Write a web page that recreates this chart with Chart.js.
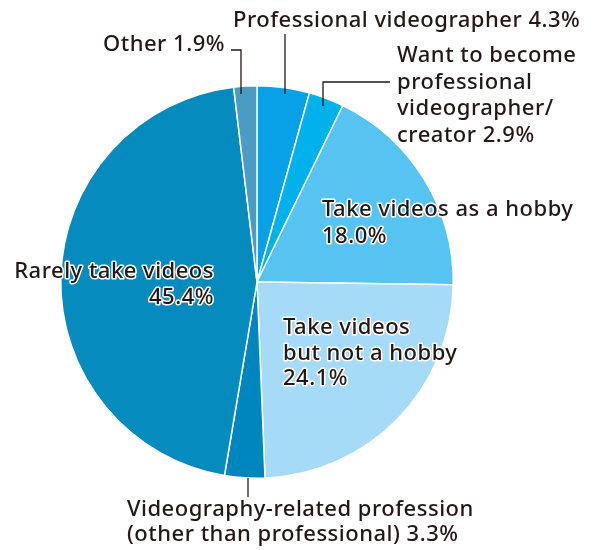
<!DOCTYPE html>
<html>
<head>
<meta charset="utf-8">
<script src="https://cdn.jsdelivr.net/npm/chart.js@4"></script>
<style>
  html, body { margin: 0; padding: 0; background: #fff; }
  #wrap { width: 600px; height: 550px; }
</style>
</head>
<body>
<div id="wrap"><canvas id="pie" width="600" height="550"></canvas></div>
<script>
const categories = [
  'Professional videographer',
  'Want to become professional videographer/creator',
  'Take videos as a hobby',
  'Take videos but not a hobby',
  'Videography-related profession (other than professional)',
  'Rarely take videos',
  'Other'
];
const shares = [4.3, 2.9, 18.0, 24.1, 3.3, 45.4, 1.9];
const colors = ['#08a0e6', '#00b1ec', '#56c3f0', '#a5dbf6', '#0086be', '#058bbd', '#4a9cc4'];

// label layout: text lines, anchor, alignment, halo, and optional leader line path
const labelLayout = [
  {lines: ['Professional videographer 4.3%'], x: 233, y: 21, align: 'left',
   leader: [[285, 34], [285, 94]]},
  {lines: ['Want to become', 'professional', 'videographer/', 'creator 2.9%'], x: 397, y: 56, align: 'left', lh: 26.5,
   leader: [[390, 82], [323, 82], [323, 106]]},
  {lines: ['Take videos as a hobby', '18.0%'], x: 322, y: 210, align: 'left', lh: 27, halo: true},
  {lines: ['Take videos', 'but not a hobby', '24.1%'], x: 283, y: 328, align: 'left', lh: 25.5, halo: true},
  {lines: ['Videography-related profession', '(other than professional) 3.3%'], x: 127, y: 510, align: 'left', lh: 25,
   leader: [[248, 478], [248, 497]]},
  {lines: ['Rarely take videos', '45.4%'], x: 214, y: 272, align: 'right', lh: 25.5, halo: true},
  {lines: ['Other 1.9%'], x: 225, y: 45, align: 'right',
   leader: [[231, 50], [241, 50], [241, 94]]}
];

const labelPlugin = {
  id: 'pieLabels',
  afterDraw(chart) {
    const ctx = chart.ctx;
    ctx.save();
    ctx.strokeStyle = '#231815';
    ctx.lineWidth = 1.3;
    labelLayout.forEach(l => {
      if (l.leader) {
        ctx.beginPath();
        l.leader.forEach((p, i) => i ? ctx.lineTo(p[0], p[1]) : ctx.moveTo(p[0], p[1]));
        ctx.stroke();
      }
    });
    ctx.font = '500 22px "Noto Sans", sans-serif';
    ctx.letterSpacing = '0.5px';
    ctx.textBaseline = 'middle';
    ctx.lineJoin = 'round';
    labelLayout.forEach(l => {
      ctx.textAlign = l.align;
      l.lines.forEach((t, i) => {
        const y = l.y + i * (l.lh || 26);
        if (l.halo) {
          ctx.strokeStyle = '#ffffff';
          ctx.lineWidth = 3;
          ctx.strokeText(t, l.x, y);
        }
        ctx.fillStyle = '#231815';
        ctx.fillText(t, l.x, y);
      });
    });
    ctx.restore();
  }
};

new Chart(document.getElementById('pie'), {
  type: 'pie',
  data: {
    labels: categories,
    datasets: [{
      data: shares,
      backgroundColor: colors,
      borderColor: '#ffffff',
      borderWidth: 1.5
    }]
  },
  options: {
    responsive: false,
    animation: false,
    layout: { padding: { left: 60, right: 146, top: 85, bottom: 71 } },
    plugins: {
      legend: { display: false },
      tooltip: { enabled: false }
    }
  },
  plugins: [labelPlugin]
});
</script>
</body>
</html>
